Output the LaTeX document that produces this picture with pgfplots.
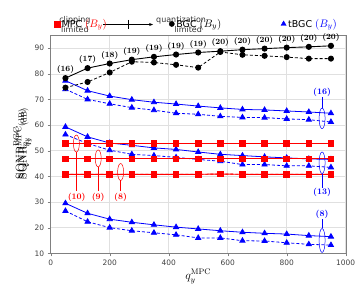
\documentclass[border=0pt]{standalone}
\usepackage{fontspec}
\usepackage{pgfplots}
\pgfplotsset{compat=1.18}
\usetikzlibrary{arrows.meta}
\newfontfamily\dejavu{DejaVu Sans}

\pgfplotstableread{
x   bs   bd   ts   td   ms   md   ls   ld   ra   rb   rc
50  78.3 74.6 77.3 74.0 59.3 56.3 29.5 26.5 52.8 46.8 40.8
125 82.2 76.8 73.4 70.0 55.4 52.8 25.6 22.3 52.8 46.8 40.8
200 84.0 80.5 71.3 68.3 53.0 50.2 23.3 20.0 52.8 46.8 40.8
275 85.5 84.7 69.9 66.8 52.1 48.6 22.1 18.8 52.8 46.8 40.8
350 86.6 84.4 68.9 65.8 51.1 48.1 21.1 18.0 52.8 46.8 40.8
425 87.5 83.5 68.2 64.6 50.5 47.4 20.2 17.2 52.8 46.8 40.8
500 88.3 82.4 67.4 64.2 49.5 46.6 19.5 16.0 52.8 46.8 40.8
575 88.8 88.5 66.7 63.4 48.6 45.9 18.8 16.0 52.8 46.8 40.9
650 89.4 87.4 66.1 63.0 48.1 44.6 18.2 14.9 52.8 46.8 40.8
725 89.8 87.0 65.9 62.9 47.6 44.6 17.8 14.8 52.8 46.8 40.8
800 90.2 86.5 65.5 62.4 47.2 44.1 17.5 14.1 52.8 46.8 40.8
875 90.5 85.9 65.1 62.1 46.8 44.1 16.9 13.5 52.8 46.8 40.8
950 90.9 85.9 64.6 61.2 46.6 43.5 16.5 13.2 52.8 46.8 40.8
}\data

\pgfplotstableread{
x   y    l
50  78.3 (16)
125 82.2 (17)
200 84.0 (18)
275 85.5 (19)
350 86.6 (19)
425 87.5 (19)
500 88.3 (19)
575 88.8 (20)
650 89.4 (20)
725 89.8 (20)
800 90.2 (20)
875 90.5 (20)
950 90.9 (20)
}\bgclab

\newcommand{\By}{{\fontsize{11}{12}\selectfont$(B_y)$}}

\pgfplotsset{legax/.style={scale only axis, width=295bp, height=218bp, hide axis,
  xmin=0, xmax=1, ymin=0, ymax=1,
  legend style={draw=none, fill=none, anchor=west, inner sep=0pt,
    font=\dejavu\fontsize{9.5}{10}\selectfont},
  legend image code/.code={\draw[mark repeat=2,mark phase=2] plot coordinates {(0bp,0bp)(3bp,0bp)(6bp,0bp)};}}}

\begin{document}
\begin{tikzpicture}
\begin{axis}[
  scale only axis, width=295bp, height=218bp,
  xmin=0, xmax=1000, ymin=10, ymax=95,
  xtick={0,200,...,1000}, ytick={10,20,...,90},
  grid=major, grid style={black!12, line width=0.5pt},
  axis line style={black!50}, tick style={black!50},
  tick align=outside, major tick length=3bp, tick pos=left,
  ticklabel style={font=\dejavu\fontsize{7.5}{8}\selectfont, text=black!75},
  /pgf/number format/assume math mode=true,
  /pgf/number format/1000 sep={},
  clip=false,
  xlabel={\fontsize{12}{14}\selectfont$q_y^{\mathrm{MPC}}$},
  ylabel={\fontsize{12}{14}\selectfont\rlap{$\mathrm{SQNR}^{\mathrm{MPC}}_{q_y}{\scriptstyle(\mathrm{dB})}$}\raisebox{2.5bp}{$\mathrm{SQNR}^{\mathrm{BGC}}_{q_y}{\scriptstyle(\mathrm{dB})}$}},
  xlabel style={yshift=3bp},
  ylabel style={yshift=-4bp},
]
\coordinate (ll) at (rel axis cs:0,0);

% overlapping top annotations
\node[font=\dejavu\fontsize{8}{9}\selectfont, text=black!80] at (axis cs:82,100.9) {clipping};
\node[font=\dejavu\fontsize{8}{9}\selectfont, text=black!80] at (axis cs:82,97.2) {limited};
\node[font=\dejavu\fontsize{8}{9}\selectfont, text=black!80] at (axis cs:442,100.9) {quantization};
\node[font=\dejavu\fontsize{8}{9}\selectfont, text=black!80] at (axis cs:466,97.2) {limited};
\draw[-{Stealth[length=4bp]}, line width=0.6pt] (axis cs:177,99.2) -- (axis cs:347,99.2);
\draw[line width=0.6pt] (axis cs:262,101.0) -- (axis cs:262,97.4);

% tBGC
\pgfplotsset{tb/.style={blue, line width=0.8pt, mark=triangle*, mark size=3bp, mark options={solid}, forget plot},
  tbd/.style={tb, dash pattern=on 3bp off 2bp}}
\addplot[tb]  table[x=x,y=ts] {\data};
\addplot[tbd] table[x=x,y=td] {\data};
\addplot[tb]  table[x=x,y=ms] {\data};
\addplot[tbd] table[x=x,y=md] {\data};
\addplot[tb]  table[x=x,y=ls] {\data};
\addplot[tbd] table[x=x,y=ld] {\data};

% MPC
\pgfplotsset{mp/.style={red, line width=0.9pt, mark=square*, mark size=2.8bp, mark options={solid}, forget plot},
  mpd/.style={mp, dash pattern=on 3bp off 2bp}}
\addplot[mp]  table[x=x,y=ra] {\data};
\addplot[mpd] table[x=x,y=ra] {\data};
\addplot[mp]  table[x=x,y=rb] {\data};
\addplot[mpd] table[x=x,y=rb] {\data};
\addplot[mp]  table[x=x,y=rc] {\data};
\addplot[mpd] table[x=x,y=rc] {\data};

% BGC
\addplot[black, line width=0.8pt, mark=*, mark size=2.6bp, dash pattern=on 3bp off 2bp, mark options={solid}, forget plot] table[x=x,y=bd] {\data};
\addplot[black, line width=0.9pt, mark=*, mark size=2.6bp, forget plot,
  nodes near coords, point meta=explicit symbolic,
  every node near coord/.style={font=\bfseries\fontsize{8}{9}\selectfont, text=black, yshift=0.5bp}]
  table[x=x,y=y,meta=l] {\bgclab};

% red annotations
\draw[red, line width=0.5pt] (axis cs:87,52.8) ellipse [x radius=3bp, y radius=8.5bp];
\draw[red, line width=0.5pt] (axis cs:87,49.5) -- (axis cs:87,34.3);
\node[red, font=\bfseries\fontsize{8.5}{9}\selectfont] at (axis cs:88,31.8) {(10)};
\draw[red, line width=0.5pt] (axis cs:161,47.0) ellipse [x radius=3bp, y radius=8.5bp];
\draw[red, line width=0.5pt] (axis cs:161,43.7) -- (axis cs:161,34.3);
\node[red, font=\bfseries\fontsize{8.5}{9}\selectfont] at (axis cs:161,31.8) {(9)};
\draw[red, line width=0.5pt] (axis cs:237,41.7) ellipse [x radius=3bp, y radius=8.5bp];
\draw[red, line width=0.5pt] (axis cs:237,38.4) -- (axis cs:237,34.3);
\node[red, font=\bfseries\fontsize{8.5}{9}\selectfont] at (axis cs:237,31.8) {(8)};

% blue annotations
\draw[blue, line width=0.5pt] (axis cs:920,62.6) ellipse [x radius=3bp, y radius=10.3bp];
\draw[blue, line width=0.5pt] (axis cs:920,66.6) -- (axis cs:920,71.0);
\node[blue, font=\bfseries\fontsize{8.5}{9}\selectfont] at (axis cs:920,72.9) {(16)};
\draw[blue, line width=0.5pt] (axis cs:920,45.3) ellipse [x radius=3bp, y radius=10.8bp];
\draw[blue, line width=0.5pt] (axis cs:920,41.1) -- (axis cs:920,35.6);
\node[blue, font=\bfseries\fontsize{8.5}{9}\selectfont] at (axis cs:920,33.7) {(13)};
\draw[blue, line width=0.5pt] (axis cs:920,15.0) ellipse [x radius=3bp, y radius=12bp];
\draw[blue, line width=0.5pt] (axis cs:920,19.7) -- (axis cs:920,23.4);
\node[blue, font=\bfseries\fontsize{8.5}{9}\selectfont] at (axis cs:920,25.2) {(8)};
\end{axis}

% legend entries, one overlay axis each
\begin{axis}[legax, legend style={at={(0.011,1.052)}}]
\addlegendimage{only marks, mark=square*, red, mark size=2.8bp}
\addlegendentry{MPC \textcolor{red}{\By}}
\end{axis}
\begin{axis}[legax, legend style={at={(0.401,1.052)}}]
\addlegendimage{only marks, mark=*, black, mark size=2.6bp}
\addlegendentry{BGC \By}
\end{axis}
\begin{axis}[legax, legend style={at={(0.780,1.052)}}]
\addlegendimage{only marks, mark=triangle*, blue, mark size=3bp}
\addlegendentry{tBGC \textcolor{blue}{\By}}
\end{axis}

\pgfresetboundingbox
\path[use as bounding box] ([shift={(-50.7bp,-37.7bp)}]ll) rectangle ([shift={(311.3bp,253.3bp)}]ll);
\end{tikzpicture}
\end{document}
